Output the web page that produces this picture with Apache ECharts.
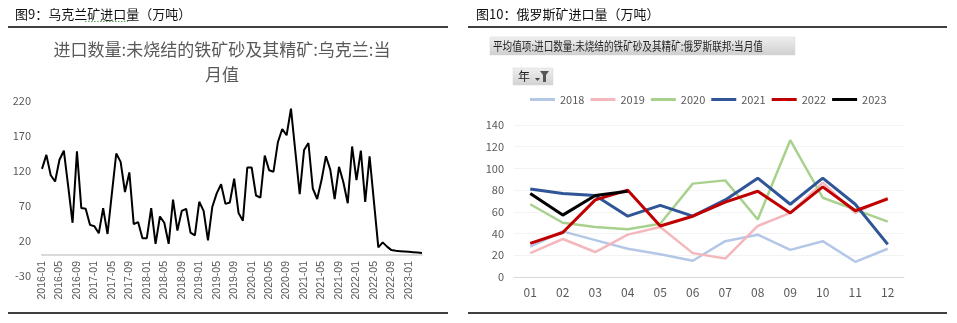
<!DOCTYPE html>
<html><head><meta charset="utf-8">
<script src="https://cdn.jsdelivr.net/npm/echarts@6/dist/echarts.min.js"></script>
<style>html,body{margin:0;padding:0;background:#fff}#c{width:957px;height:323px}</style>
</head><body><div id="c"></div>
<script>
// ---- Left chart: Ukraine monthly imports (2016-01 .. 2023-04)
const ukrMonths = [];
for (let y = 2016; y <= 2023; y++) {
  for (let m = 1; m <= 12; m++) {
    if (y === 2023 && m > 4) break;
    ukrMonths.push(y + '-' + (m < 10 ? '0' + m : '' + m));
  }
}
const ukrValues = [
  123, 143, 114, 105, 136, 149, 98, 46, 148, 67, 66, 43,
  41, 31, 67, 30, 88, 145, 133, 90, 118, 44, 47, 24,
  24, 67, 16, 55, 46, 16, 79, 35, 63, 66, 32, 28,
  76, 63, 21, 69, 88, 101, 73, 75, 109, 60, 49, 125,
  125, 85, 82, 142, 121, 119, 161, 180, 171, 209, 148, 87,
  150, 160, 95, 80, 107, 141, 122, 80, 126, 104, 74, 155,
  107, 149, 76, 141, 76, 11, 18, 12, 7, 6, 5.5, 5,
  4.5, 4, 3.5, 3
];
const ukrYTicks = [-30, 20, 70, 120, 170, 220];

// ---- Right chart: Russia monthly imports by year
const rusMonths = ['01','02','03','04','05','06','07','08','09','10','11','12'];
const rusYears = ['2018','2019','2020','2021','2022','2023'];
const rus2018 = [28, 42, 34, 26, 21, 15, 33, 39, 25, 33, 14, 26];
const rus2019 = [22, 35, 23, 39, 46, 22, 17, 47, 59, 87, 59, 73];
const rus2020 = [67, 50, 46, 44, 49, 86, 89, 53, 126, 73, 62, 51];
const rus2021 = [81, 77, 75, 56, 66, 56, 71, 91, 67, 91, 67, 30];
const rus2022 = [31, 41, 71, 80, 47, 56, 69, 79, 59, 83, 61, 72];
const rus2023 = [77, 57, 75, 79];
const rusYTicks = [0, 20, 40, 60, 80, 100, 120, 140];

const rusColors = ['#B4C7E7', '#F4B8BC', '#A9D18E', '#2F5597', '#C00000', '#000000'];
const rusWidths = [2.5, 2.5, 2.5, 3, 3, 3];
const rusData = [rus2018, rus2019, rus2020, rus2021, rus2022, rus2023];

const FONT = "'Noto Sans CJK SC', 'Liberation Sans', sans-serif";
const NUMFONT = "'Liberation Sans', 'Noto Sans CJK SC', sans-serif";
const chart = echarts.init(document.getElementById('c'), null, {renderer: 'canvas'});

const rusSeries = rusYears.map((y, i) => ({
  name: y, type: 'line', xAxisIndex: 1, yAxisIndex: 1,
  data: rusData[i], symbol: 'none', smooth: false,
  lineStyle: {color: rusColors[i], width: rusWidths[i]},
  itemStyle: {color: rusColors[i]}, z: 2 + i
}));

chart.setOption({
  animation: false,
  textStyle: {fontFamily: FONT},
  grid: [
    {left: 42, top: 101, width: 380, height: 175},
    {left: 514, top: 125, width: 390, height: 152}
  ],
  legend: {
    left: 525, top: 89, itemWidth: 25, itemHeight: 3, itemGap: 6, icon: 'rect',
    textStyle: {color: '#595959', fontSize: 11, fontFamily: FONT},
    data: rusYears
  },
  xAxis: [
    {gridIndex: 0, type: 'category', data: ukrMonths, boundaryGap: false, offset: -21,
     axisLine: {onZero: false, lineStyle: {color: '#D9D9D9', width: 2}},
     axisTick: {show: false},
     axisLabel: {rotate: 90, interval: 3, color: '#595959', fontSize: 10.5, margin: 6, fontFamily: NUMFONT}},
    {gridIndex: 1, type: 'category', data: rusMonths, boundaryGap: true,
     axisLine: {lineStyle: {color: '#D9D9D9', width: 1}},
     axisTick: {show: false},
     axisLabel: {color: '#595959', fontSize: 12, margin: 9, fontFamily: FONT}}
  ],
  yAxis: [
    {gridIndex: 0, type: 'value', min: ukrYTicks[0], max: ukrYTicks[ukrYTicks.length - 1], interval: 50,
     axisLine: {show: false}, axisTick: {show: false}, splitLine: {show: false},
     axisLabel: {color: '#595959', fontSize: 11, margin: 11, fontFamily: FONT}},
    {gridIndex: 1, type: 'value', min: rusYTicks[0], max: rusYTicks[rusYTicks.length - 1], interval: 20,
     axisLine: {show: false}, axisTick: {show: false},
     splitLine: {show: true, lineStyle: {color: '#F3F3F3', width: 1}},
     axisLabel: {color: '#595959', fontSize: 11, margin: 10, fontFamily: FONT}}
  ],
  series: [
    {name: 'ukr', type: 'line', xAxisIndex: 0, yAxisIndex: 0, data: ukrValues,
     symbol: 'none', smooth: false, lineStyle: {color: '#000000', width: 2}, itemStyle: {color: '#000'}}
  ].concat(rusSeries),
  graphic: [
    // Left header
    {type: 'text', x: 15, y: 14, style: {text: '图9：乌克兰矿进口量（万吨）', fontSize: 13, fill: '#111', verticalAlign: 'middle', fontFamily: FONT}},
    {type: 'line', shape: {x1: 85, y1: 21.5, x2: 128, y2: 21.5}, style: {stroke: '#5BAA5B', lineWidth: 1, lineDash: [1.5, 1.5]}},
    {type: 'line', shape: {x1: 8, y1: 27, x2: 448, y2: 27}, style: {stroke: '#000', lineWidth: 1.5}},
    {type: 'line', shape: {x1: 8, y1: 313, x2: 448, y2: 313}, style: {stroke: '#000', lineWidth: 1.5}},
    // Left chart title
    {type: 'text', x: 222, y: 50, style: {text: '进口数量:未烧结的铁矿砂及其精矿:乌克兰:当', fontSize: 17, fill: '#595959', align: 'center', verticalAlign: 'middle', fontFamily: FONT}},
    {type: 'text', x: 222, y: 75, style: {text: '月值', fontSize: 17, fill: '#595959', align: 'center', verticalAlign: 'middle', fontFamily: FONT}},
    // Right header
    {type: 'text', x: 476, y: 14, style: {text: '图10：俄罗斯矿进口量（万吨）', fontSize: 13, fill: '#111', verticalAlign: 'middle', fontFamily: FONT}},
    {type: 'line', shape: {x1: 468, y1: 27, x2: 947, y2: 27}, style: {stroke: '#000', lineWidth: 1.5}},
    {type: 'line', shape: {x1: 468, y1: 313, x2: 947, y2: 313}, style: {stroke: '#000', lineWidth: 1.5}},
    // Pivot field box
    {type: 'rect', shape: {x: 490, y: 37, width: 305, height: 18},
     style: {fill: new echarts.graphic.LinearGradient(0, 0, 0, 1, [{offset: 0, color: '#EFEFEF'}, {offset: 1, color: '#CFCFCF'}]),
             stroke: '#D6D6D6', lineWidth: 0.5}},
    {type: 'text', x: 493, y: 46, scaleX: 0.8,
     style: {text: '平均值项:进口数量:未烧结的铁矿砂及其精矿:俄罗斯联邦:当月值', fontSize: 12, fill: '#222', verticalAlign: 'middle', fontFamily: FONT}},
    // Filter button
    {type: 'rect', shape: {x: 513, y: 68, width: 40, height: 17},
     style: {fill: new echarts.graphic.LinearGradient(0, 0, 0, 1, [{offset: 0, color: '#EFEFEF'}, {offset: 1, color: '#D2D2D2'}]),
             stroke: '#D6D6D6', lineWidth: 0.5}},
    {type: 'text', x: 518, y: 76.5, style: {text: '年', fontSize: 12, fill: '#222', verticalAlign: 'middle', fontFamily: FONT}},
    {type: 'polygon', shape: {points: [[535, 78], [540, 78], [537.5, 81]]}, style: {fill: '#444'}},
    {type: 'polygon', shape: {points: [[540, 71], [549, 71], [546, 75], [546, 82], [543, 82], [543, 75]]}, style: {fill: '#555'}}
  ]
});
</script>
</body></html>
